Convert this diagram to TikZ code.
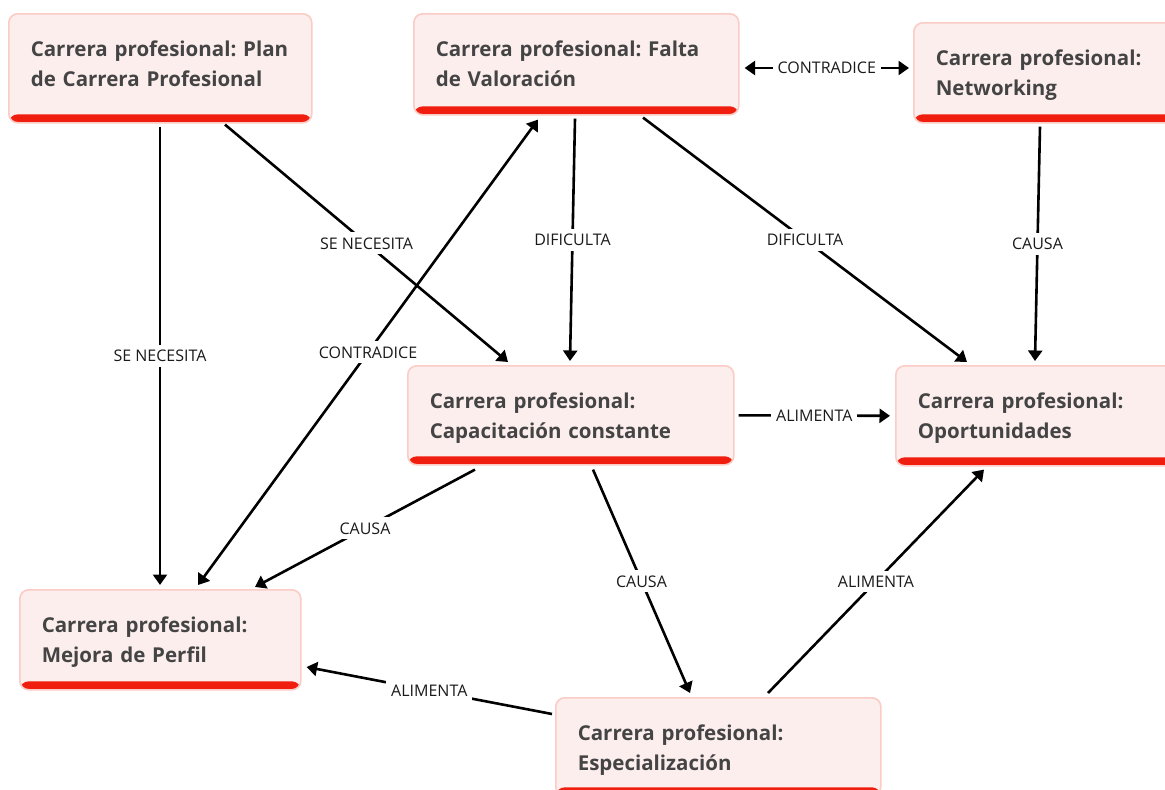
\documentclass[tikz,border=0pt]{standalone}
\usepackage{fontspec}
\setmainfont{Open Sans}
\usetikzlibrary{arrows.meta,calc}
\definecolor{boxfill}{HTML}{FDEEEE}
\definecolor{boxline}{HTML}{FBCBC6}
\definecolor{barred}{HTML}{F01E0E}
\definecolor{txt}{HTML}{444444}
\definecolor{lbltxt}{HTML}{1A1A1A}
\frenchspacing
\newcommand\boxtext[3]{\rule{0pt}{43pt}\mbox{#1}\\\mbox{#2}\rule[\dimexpr73pt-#3pt\relax]{0pt}{0pt}}
\begin{document}
\begin{tikzpicture}[x=1pt,y=-1pt,
  box/.style={draw=boxline, line width=1.6pt, fill=boxfill, rounded corners=9pt,
    anchor=north west, inner xsep=22pt, inner ysep=0pt, align=left, text=txt,
    font=\fontsize{20.5}{30}\selectfont\bfseries,
    path picture={\fill[barred] (path picture bounding box.south west) rectangle ([yshift=8.5pt]path picture bounding box.south east);}},
  conn/.style={line width=2.6pt, -{Triangle[length=10.5pt,width=14pt]}},
  conn2/.style={line width=2.6pt, {Triangle[length=10.5pt,width=14pt]}-{Triangle[length=10.5pt,width=14pt]}},
  lbl/.style={fill=white, font=\fontsize{16}{18}\selectfont, text=lbltxt, inner sep=5pt}]
\useasboundingbox (0,0) rectangle (1165,790);
\fill[white] (0,0) rectangle (1165,790);
\clip (0,0) rectangle (1165,790);

\node[box, text width=259pt] (plan) at (8,13) {\boxtext{Carrera profesional: Plan}{de Carrera Profesional}{109}};
\node[box, text width=281pt] (falta) at (413,13) {\boxtext{Carrera profesional: Falta}{de Valoración}{101}};
\node[box, text width=218pt] (net) at (913,22) {\boxtext{Carrera profesional:}{Networking}{100}};
\node[box, text width=282pt] (cap) at (407,365) {\boxtext{Carrera profesional:}{Capacitación constante}{99}};
\node[box, text width=236pt] (opo) at (895,365) {\boxtext{Carrera profesional:}{Oportunidades}{100}};
\node[box, text width=237pt] (mej) at (19,589) {\boxtext{Carrera profesional:}{Mejora de Perfil}{100}};
\node[box, text width=281pt] (esp) at (555,697) {\boxtext{Carrera profesional:}{Especialización}{98}};

\draw[conn] ($(plan.south west)+(152,3)$) -- node[lbl] {SE NECESITA} ($(mej.north west)+(141,-4)$);
\draw[conn] ($(plan.south west)+(217,1)$) -- node[lbl] {SE NECESITA} ($(cap.north west)+(101,-3)$);
\draw[conn2] ($(mej.north west)+(179,-4)$) -- node[lbl] {CONTRADICE} ($(falta.south west)+(125,4)$);
\draw[conn] ($(falta.south west)+(162,3)$) -- node[lbl] {DIFICULTA} ($(cap.north west)+(163,-4)$);
\draw[conn] ($(falta.south west)+(230,2)$) -- node[lbl] {DIFICULTA} ($(opo.north west)+(72,-3)$);
\draw[conn2] ($(falta.north east)+(5,55)$) -- node[lbl] {CONTRADICE} ($(net.north west)+(-4,46)$);
\draw[conn] ($(net.south west)+(127,3)$) -- node[lbl] {CAUSA} ($(opo.north west)+(140,-4)$);
\draw[conn] ([xshift=4pt]cap.east) -- node[lbl] {ALIMENTA} ([xshift=-5pt]opo.west);
\draw[conn] ($(cap.south west)+(68,4)$) -- node[lbl] {CAUSA} ($(mej.north west)+(236,-2)$);
\draw[conn] ($(cap.south west)+(186,4)$) -- node[lbl] {CAUSA} ($(esp.north west)+(135,-4)$);
\draw[conn] ($(esp.north west)+(-3,17)$) -- node[lbl] {ALIMENTA} ($(mej.north east)+(5,78)$);
\draw[conn] ($(esp.north west)+(213,-4)$) -- node[lbl] {ALIMENTA} ($(opo.south west)+(89,3)$);
\end{tikzpicture}
\end{document}
